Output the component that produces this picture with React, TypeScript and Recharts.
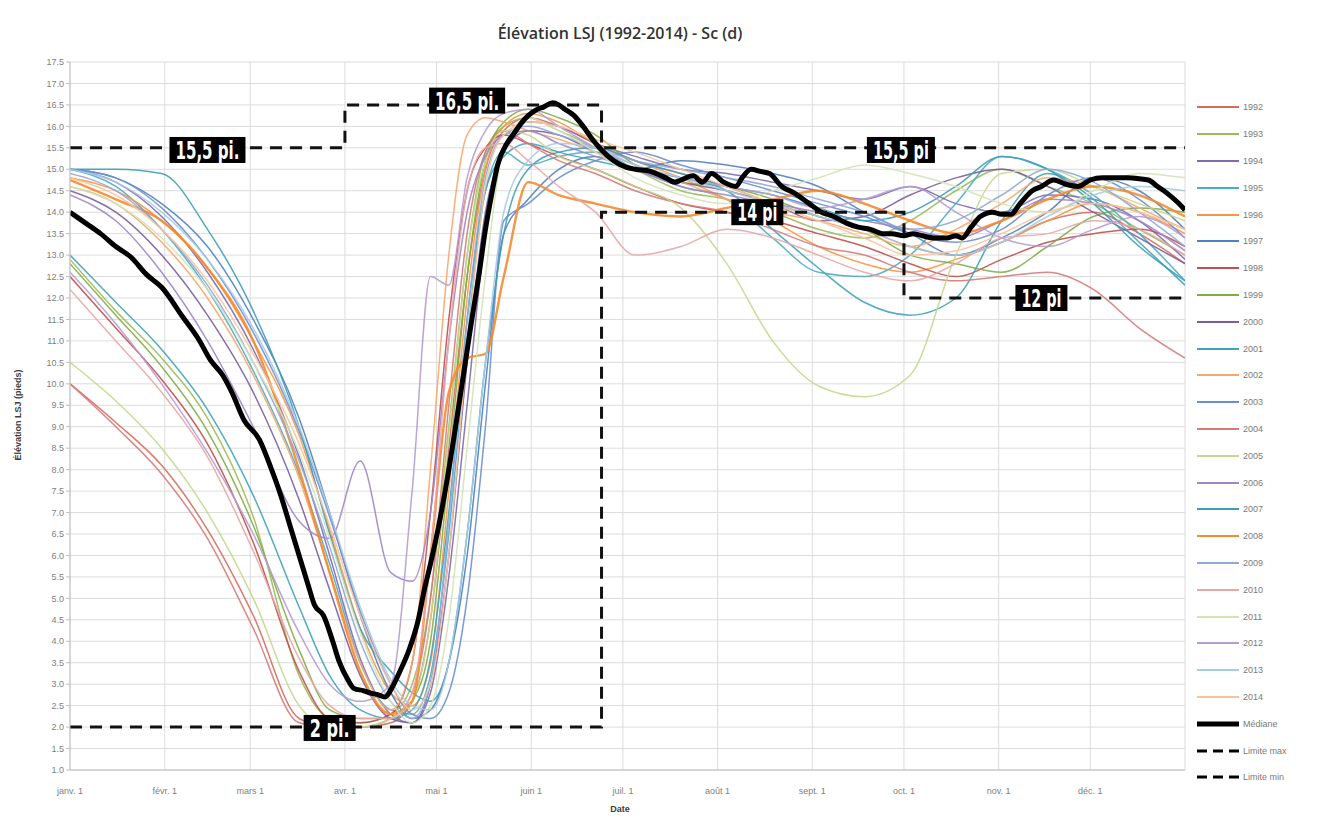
import React from 'react';
import { LineChart, Line, XAxis, YAxis, CartesianGrid, ReferenceDot } from 'recharts';

// ---- Data ----
const days = [0, 15, 30, 45, 60, 75, 85, 95, 105, 112, 118, 124, 130, 136, 142, 150, 160, 172, 185, 200, 215, 230, 245, 260, 275, 290, 305, 320, 335, 350, 365];

const y1992 = [10.0, 9.1, 8.1, 6.6, 4.6, 2.2, 2.0, 2.0, 2.1, 2.6, 4.5, 8.5, 12.5, 15.0, 15.9, 16.2, 16.0, 15.6, 15.2, 14.9, 14.6, 14.2, 13.9, 13.6, 13.2, 13.0, 13.3, 13.8, 14.0, 13.5, 12.8];
const y1993 = [12.9, 11.7, 10.6, 9.2, 6.9, 3.2, 2.2, 2.1, 2.3, 3.0, 5.0, 9.0, 13.0, 15.4, 16.0, 16.2, 15.9, 15.5, 15.0, 14.5, 14.3, 14.0, 13.6, 13.4, 13.8, 14.5, 15.0, 14.6, 14.2, 13.6, 13.0];
const y1994 = [15.0, 14.7, 13.9, 12.6, 10.8, 8.3, 6.0, 3.6, 2.3, 2.1, 2.8, 5.5, 9.5, 13.5, 15.5, 16.1, 16.0, 15.6, 15.3, 15.0, 14.9, 14.7, 14.5, 14.3, 14.6, 14.2, 14.0, 14.4, 14.3, 13.8, 12.9];
const y1995 = [15.0, 14.6, 13.6, 12.2, 10.3, 7.9, 5.8, 3.5, 2.4, 2.3, 3.2, 6.5, 11.0, 14.5, 15.4, 15.1, 15.3, 15.4, 15.0, 14.6, 14.3, 13.4, 12.6, 12.5, 13.0, 14.2, 15.3, 15.0, 14.4, 13.5, 12.4];
const y1996 = [14.8, 14.5, 13.8, 12.7, 11.0, 8.8, 6.6, 4.3, 2.8, 2.5, 3.5, 7.5, 12.0, 15.0, 16.0, 16.3, 16.1, 15.6, 15.2, 14.8, 14.3, 13.8, 13.2, 12.8, 12.6, 12.9, 13.3, 13.8, 14.2, 14.0, 13.5];
const y1997 = [15.0, 14.8, 14.2, 13.2, 11.5, 9.2, 7.0, 4.6, 2.8, 2.2, 2.4, 3.5, 6.0, 10.0, 13.5, 14.3, 15.0, 15.3, 15.0, 15.2, 15.1, 14.9, 14.6, 14.0, 13.5, 13.0, 13.4, 14.0, 14.8, 14.5, 13.6];
const y1998 = [12.5, 11.3, 10.1, 8.6, 6.3, 3.3, 2.2, 2.1, 2.3, 3.5, 7.0, 11.5, 14.5, 15.5, 15.8, 15.6, 15.3, 15.0, 14.6, 14.2, 14.0, 13.8, 13.5, 13.2, 12.8, 12.5, 12.9, 13.3, 13.5, 13.6, 13.2];
const y1999 = [12.8, 11.6, 10.4, 8.9, 6.7, 3.8, 2.4, 2.2, 2.2, 2.6, 4.0, 8.0, 12.5, 15.2, 16.1, 16.4, 16.2, 15.8, 15.1, 14.7, 14.6, 14.3, 13.9, 13.6, 13.0, 12.8, 12.6, 13.2, 13.9, 14.1, 14.0];
const y2000 = [14.5, 14.0, 13.0, 11.6, 9.8, 7.3, 5.2, 3.2, 2.2, 2.1, 3.0, 6.0, 10.5, 14.0, 15.4, 15.9, 15.8, 15.4, 15.0, 14.7, 14.5, 14.2, 13.8, 13.9, 14.4, 14.8, 15.0, 14.6, 14.0, 13.4, 12.8];
const y2001 = [13.0, 11.9, 10.8, 9.4, 7.4, 4.8, 3.2, 2.4, 2.2, 2.4, 3.6, 7.0, 11.5, 14.5, 15.3, 15.6, 15.4, 15.2, 15.0, 14.8, 14.5, 13.6, 12.7, 11.9, 11.6, 12.0, 13.8, 14.9, 14.3, 13.3, 12.3];
const y2002 = [14.6, 14.2, 13.3, 12.0, 10.2, 7.8, 5.6, 3.5, 2.4, 3.5, 8.0, 13.0, 15.8, 16.2, 16.1, 15.9, 15.7, 15.4, 15.0, 14.7, 14.3, 14.0, 13.8, 13.5, 13.2, 13.6, 14.2, 14.8, 14.6, 14.1, 13.6];
const y2003 = [15.0, 14.8, 14.1, 12.9, 11.2, 8.9, 6.9, 4.7, 3.0, 2.3, 2.2, 2.8, 5.0, 9.0, 13.8, 14.2, 14.8, 15.2, 15.4, 15.1, 14.8, 14.5, 14.2, 13.9, 13.5, 13.3, 13.6, 14.4, 14.8, 14.3, 13.4];
const y2004 = [10.0, 9.0, 7.9, 6.4, 4.3, 2.1, 2.0, 2.0, 2.2, 2.8, 5.0, 9.5, 13.5, 15.4, 15.9, 15.6, 15.2, 14.9, 14.5, 14.2, 14.0, 13.6, 13.2, 13.0, 12.6, 12.4, 12.5, 12.6, 12.2, 11.3, 10.6];
const y2005 = [10.5, 9.6, 8.5, 7.0, 5.0, 2.5, 2.0, 2.0, 2.2, 2.6, 4.5, 8.8, 13.0, 15.2, 15.9, 15.8, 15.3, 15.0, 14.6, 14.1, 12.8, 11.0, 9.95, 9.7, 10.2, 13.0, 14.9, 15.0, 14.6, 14.2, 13.8];
const y2006 = [14.4, 13.8, 12.6, 11.0, 9.0, 6.8, 6.4, 8.2, 5.6, 5.4, 7.0, 11.0, 14.0, 15.3, 15.8, 15.9, 15.6, 15.3, 15.0, 14.6, 14.4, 14.2, 14.0, 13.8, 13.6, 13.4, 13.8, 14.3, 14.2, 13.8, 13.1];
const y2007 = [15.0, 15.0, 14.9, 13.6, 11.7, 9.0, 6.5, 4.3, 3.3, 2.8, 2.6, 3.5, 6.5, 10.5, 13.5, 15.0, 15.4, 15.5, 15.2, 14.9, 14.6, 14.4, 14.1, 13.8, 14.0, 14.6, 15.3, 15.0, 14.2, 13.2, 12.4];
const y2008 = [14.75, 14.3, 13.8, 12.7, 11.0, 8.0, 5.6, 3.3, 2.3, 2.6, 6.0, 9.8, 10.6, 10.7, 12.5, 14.7, 14.4, 14.2, 14.0, 13.9, 14.1, 14.3, 14.5, 14.2, 13.8, 13.5, 13.8, 14.3, 14.6, 14.4, 13.9];
const y2009 = [14.9, 14.5, 13.6, 12.3, 10.5, 8.2, 6.2, 4.0, 2.6, 2.2, 3.0, 6.8, 11.5, 14.8, 15.8, 16.0, 15.8, 15.5, 15.2, 15.0, 14.8, 14.6, 14.3, 14.0, 13.6, 13.8, 14.4, 15.0, 14.7, 14.0, 13.2];
const y2010 = [12.2, 11.0, 9.8, 8.3, 6.1, 3.6, 2.5, 2.2, 2.2, 2.8, 6.0, 11.0, 14.5, 15.5, 15.6, 15.2, 14.6, 14.0, 13.0, 13.2, 13.6, 13.4, 13.0, 12.6, 12.4, 12.8, 13.4, 13.5, 13.8, 13.6, 13.0];
const y2011 = [14.6, 14.2, 13.4, 12.2, 10.5, 8.4, 6.4, 4.2, 2.6, 2.1, 2.5, 4.5, 8.5, 12.5, 15.5, 16.2, 15.9, 15.4, 14.8, 14.4, 14.2, 14.5, 14.8, 15.1, 14.9, 14.6, 14.2, 14.0, 14.5, 14.9, 14.8];
const y2012 = [12.6, 11.4, 10.0, 8.4, 6.5, 4.2, 3.0, 2.6, 3.0, 7.5, 12.5, 12.3, 14.8, 15.9, 16.3, 16.4, 16.0, 15.5, 15.1, 14.8, 14.6, 14.4, 14.1, 14.3, 14.6, 14.0, 13.4, 13.2, 13.6, 13.9, 13.4];
const y2013 = [15.0, 14.7, 14.0, 12.9, 11.3, 9.0, 7.0, 4.8, 3.1, 2.5, 2.4, 3.5, 6.5, 10.5, 14.0, 15.2, 15.6, 15.5, 15.1, 14.8, 14.5, 14.2, 13.9, 13.6, 13.2, 13.0, 13.3, 13.9, 14.4, 14.6, 14.5];
const y2014 = [14.8, 14.4, 13.6, 12.4, 10.7, 8.6, 6.7, 4.6, 3.0, 2.4, 3.0, 6.0, 10.8, 14.6, 15.8, 16.1, 16.0, 15.7, 15.4, 15.0, 14.6, 14.2, 13.8, 13.4, 13.0, 13.1, 13.5, 14.0, 14.2, 14.0, 13.6];

const yearNames = ['1992', '1993', '1994', '1995', '1996', '1997', '1998', '1999', '2000', '2001', '2002', '2003', '2004', '2005', '2006', '2007', '2008', '2009', '2010', '2011', '2012', '2013', '2014'];
const yearValues = [y1992, y1993, y1994, y1995, y1996, y1997, y1998, y1999, y2000, y2001, y2002, y2003, y2004, y2005, y2006, y2007, y2008, y2009, y2010, y2011, y2012, y2013, y2014];
const yearColors = ['#D46B5C', '#9BBB59', '#7E6BB0', '#4BACC6', '#F79646', '#4F81BD', '#C0504D', '#7FAE45', '#7A5DA0', '#3FA3B9', '#F9A66C', '#6A8FD0', '#D77A78', '#C4D88E', '#9F86C8', '#3E9DB8', '#F58A2E', '#8FA8D8', '#E8A7A7', '#D3E3B4', '#B79BD0', '#A8CBE0', '#FBC39A'];

const medianDays = [0, 5, 10, 15, 20, 25, 30, 37, 42, 46, 50, 53, 57, 62, 66, 69, 72, 75, 78, 80, 83, 86, 88, 91, 93, 96, 98, 101, 103, 106, 108, 111, 114, 116, 118, 121, 124, 126, 129, 131, 134, 136, 138, 140, 143, 145, 148, 150, 153, 155, 158, 160, 162, 165, 168, 171, 174, 178, 182, 185, 190, 195, 198, 200, 204, 207, 210, 214, 218, 220, 223, 226, 229, 233, 237, 242, 246, 250, 254, 258, 262, 266, 269, 273, 276, 279, 283, 287, 290, 292, 295, 298, 302, 305, 308, 311, 315, 318, 322, 326, 330, 334, 338, 342, 346, 350, 353, 356, 359, 363, 365];
const medianValues = [14.0, 13.75, 13.5, 13.2, 12.95, 12.55, 12.25, 11.55, 11.05, 10.55, 10.2, 9.8, 9.15, 8.7, 8.0, 7.4, 6.7, 6.0, 5.3, 4.85, 4.6, 4.0, 3.55, 3.1, 2.9, 2.85, 2.8, 2.75, 2.7, 3.0, 3.3, 3.8, 4.5, 5.2, 5.8, 6.8, 8.0, 8.9, 10.3, 11.25, 12.6, 13.6, 14.4, 15.1, 15.6, 15.8, 16.1, 16.25, 16.4, 16.45, 16.55, 16.5, 16.4, 16.25, 16.0, 15.7, 15.45, 15.2, 15.05, 15.0, 14.95, 14.8, 14.7, 14.75, 14.85, 14.7, 14.9, 14.7, 14.6, 14.8, 15.0, 14.95, 14.9, 14.6, 14.45, 14.2, 14.0, 13.9, 13.75, 13.65, 13.6, 13.5, 13.5, 13.45, 13.5, 13.45, 13.4, 13.4, 13.45, 13.4, 13.65, 13.9, 14.0, 13.95, 13.95, 14.2, 14.5, 14.6, 14.75, 14.65, 14.6, 14.75, 14.8, 14.8, 14.8, 14.78, 14.75, 14.6, 14.45, 14.2, 14.05];

const maxLimitDays = [0, 90, 174, 365];
const maxLimitValues = [15.5, 16.5, 15.5, 15.5];
const minLimitDays = [0, 174, 273, 365];
const minLimitValues = [2.0, 14.0, 12.0, 12.0];

const monthTicks = [0, 31, 59, 90, 120, 151, 181, 212, 243, 273, 304, 334];
const monthLabels = ['janv. 1', 'févr. 1', 'mars 1', 'avr. 1', 'mai 1', 'juin 1', 'juil. 1', 'août 1', 'sept. 1', 'oct. 1', 'nov. 1', 'déc. 1'];
const yTicks = [1.0, 1.5, 2.0, 2.5, 3.0, 3.5, 4.0, 4.5, 5.0, 5.5, 6.0, 6.5, 7.0, 7.5, 8.0, 8.5, 9.0, 9.5, 10.0, 10.5, 11.0, 11.5, 12.0, 12.5, 13.0, 13.5, 14.0, 14.5, 15.0, 15.5, 16.0, 16.5, 17.0, 17.5];

const annotationTexts = ['15,5 pi.', '16,5 pi.', '2 pi.', '15,5 pi', '14 pi', '12 pi'];
const annotationDays = [45, 130, 85, 272, 225, 318];
const annotationValues = [15.45, 16.6, 1.98, 15.45, 14.0, 12.0];

// ---- Helpers ----
const toPoints = (xs: number[], ys: number[]) => xs.map((x, i) => ({ x, y: ys[i] }));

const yearSeries = yearNames.map((name, i) => ({ name, color: yearColors[i], data: toPoints(days, yearValues[i]) }));
const medianData = toPoints(medianDays, medianValues);
const maxData = toPoints(maxLimitDays, maxLimitValues);
const minData = toPoints(minLimitDays, minLimitValues);
const annotations = annotationTexts.map((text, i) => ({ text, x: annotationDays[i], y: annotationValues[i] }));

const monthLabel = (v: number) => {
  const i = monthTicks.indexOf(v);
  return i >= 0 ? monthLabels[i] : '';
};

const AnnotationShape = (text: string) => (props: any) => {
  const { cx, cy } = props;
  if (cx == null || cy == null) return <g />;
  const tw = text.length * 8;
  const w = tw + 12;
  return (
    <g>
      <rect x={cx - w / 2} y={cy - 13} width={w} height={26} fill="#000" />
      <text
        x={cx}
        y={cy + 9}
        textAnchor="middle"
        fill="#fff"
        fontFamily="'DejaVu Sans Condensed', 'DejaVu Sans', sans-serif"
        fontWeight="bold"
        fontSize={25}
        textLength={tw}
        lengthAdjust="spacingAndGlyphs"
      >
        {text}
      </text>
    </g>
  );
};

const legendItems = [
  ...yearSeries.map((s) => ({ name: s.name, color: s.color, width: 2, dash: '' })),
  { name: 'Médiane', color: '#000', width: 5, dash: '' },
  { name: 'Limite max', color: '#000', width: 3, dash: '10 6' },
  { name: 'Limite min', color: '#000', width: 3, dash: '10 6' },
];

export default function App() {
  const W = 1304;
  const H = 806;
  return (
    <div style={{ position: 'relative', width: W, height: H, fontFamily: "'Liberation Sans', Arial, sans-serif" }}>
      <div
        style={{
          position: 'absolute',
          left: 612,
          top: 14,
          transform: 'translateX(-50%)',
          whiteSpace: 'nowrap',
          fontFamily: "'Open Sans', sans-serif",
          fontWeight: 600,
          fontSize: 16,
          color: '#333',
        }}
      >
        Élévation LSJ (1992-2014) - Sc (d)
      </div>
      <LineChart width={W} height={H} margin={{ top: 54, right: 127, bottom: 14, left: 22 }}>
        <CartesianGrid stroke="#dcdcdc" strokeWidth={1} />
        <XAxis
          type="number"
          dataKey="x"
          domain={[0, 365]}
          ticks={monthTicks}
          interval={0}
          tickFormatter={monthLabel}
          height={30}
          tick={{ fontSize: 9, fill: '#808080' }}
          tickLine={false}
          axisLine={{ stroke: '#bfbfbf' }}
          tickMargin={12}
          allowDataOverflow
        />
        <YAxis
          type="number"
          domain={[1, 17.5]}
          ticks={yTicks}
          interval={0}
          width={40}
          tickFormatter={(v: number) => v.toFixed(1)}
          tick={{ fontSize: 9, fill: '#808080' }}
          tickSize={4}
          axisLine={{ stroke: '#bfbfbf' }}
          tickLine={{ stroke: '#bfbfbf' }}
          allowDataOverflow
        />
        {yearSeries.map((s) => (
          <Line
            key={s.name}
            name={s.name}
            data={s.data}
            dataKey="y"
            type="monotone"
            stroke={s.color}
            strokeWidth={s.name === '2008' ? 2.4 : 1.5}
            strokeOpacity={0.9}
            dot={false}
            activeDot={false}
            isAnimationActive={false}
          />
        ))}
        <Line
          name="Médiane"
          data={medianData}
          dataKey="y"
          type="monotone"
          stroke="#000"
          strokeWidth={5}
          dot={false}
          activeDot={false}
          isAnimationActive={false}
        />
        <Line
          name="Limite max"
          data={maxData}
          dataKey="y"
          type="stepAfter"
          stroke="#111"
          strokeWidth={3}
          strokeDasharray="12 8"
          dot={false}
          activeDot={false}
          isAnimationActive={false}
        />
        <Line
          name="Limite min"
          data={minData}
          dataKey="y"
          type="stepAfter"
          stroke="#111"
          strokeWidth={3}
          strokeDasharray="12 8"
          dot={false}
          activeDot={false}
          isAnimationActive={false}
        />
        {annotations.map((a) => (
          <ReferenceDot key={a.text + a.x} x={a.x} y={a.y} r={0} ifOverflow="visible" shape={AnnotationShape(a.text)} />
        ))}
      </LineChart>
      <div
        style={{
          position: 'absolute',
          left: 10,
          top: 407,
          transform: 'translate(-50%, -50%) rotate(-90deg)',
          whiteSpace: 'nowrap',
          fontSize: 9,
          fontWeight: 'bold',
          color: '#404040',
        }}
      >
        Élévation LSJ (pieds)
      </div>
      <div
        style={{
          position: 'absolute',
          left: 612,
          top: 796,
          transform: 'translateX(-50%)',
          fontSize: 9,
          lineHeight: '10px',
          fontWeight: 'bold',
          color: '#404040',
        }}
      >
        Date
      </div>
      <div style={{ position: 'absolute', left: 1189, top: 86 }}>
        {legendItems.map((it) => (
          <div key={it.name} style={{ display: 'flex', alignItems: 'center', height: 26.8 }}>
            <svg width={44} height={10} style={{ display: 'block' }}>
              <line x1={0} y1={5} x2={42} y2={5} stroke={it.color} strokeWidth={it.width} strokeDasharray={it.dash} />
            </svg>
            <span style={{ fontSize: 9, color: '#7a7a7a', marginLeft: 2 }}>{it.name}</span>
          </div>
        ))}
      </div>
    </div>
  );
}
